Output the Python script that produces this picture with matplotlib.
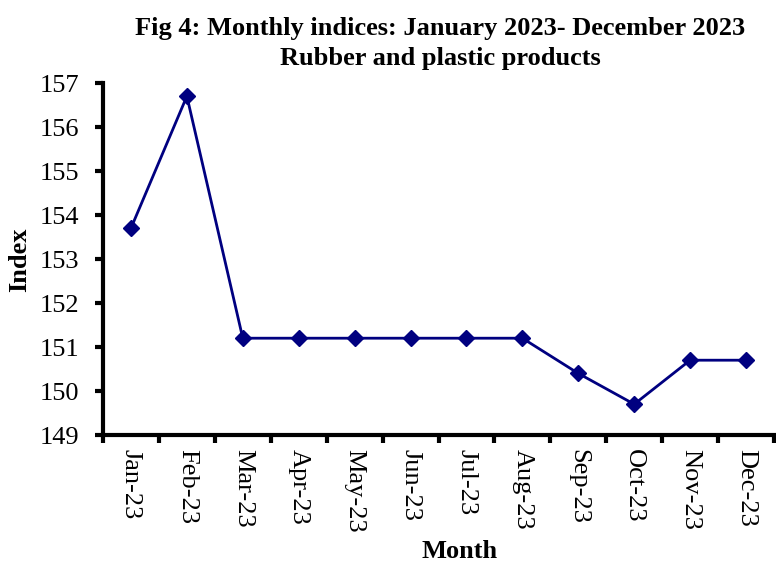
import numpy as np
import matplotlib.pyplot as plt

months = ["Jan-23", "Feb-23", "Mar-23", "Apr-23", "May-23", "Jun-23",
          "Jul-23", "Aug-23", "Sep-23", "Oct-23", "Nov-23", "Dec-23"]
index_values = [153.7, 156.7, 151.2, 151.2, 151.2, 151.2,
                151.2, 151.2, 150.4, 149.7, 150.7, 150.7]

plt.rcParams['font.family'] = ['Liberation Serif', 'DejaVu Serif']

fig = plt.figure(figsize=(7.76, 5.65), dpi=100)
ax = fig.add_axes([103 / 776, 1 - 435 / 565, 671 / 776, (435 - 83) / 565])

x = np.arange(len(months))
ax.plot(x, index_values, color='#000080', linewidth=2,
        marker='D', markersize=8.5, markerfacecolor='#000080', markeredgecolor='#000080')

ax.set_xlim(-0.5, len(months) - 0.5)
ax.set_ylim(149, 157)
ax.set_yticks(np.arange(149, 158, 1))

# ticks on category borders, labels on category centres
ax.set_xticks(np.arange(-0.5, len(months), 1))
ax.set_xticklabels([])
ax.set_xticks(x, minor=True)
ax.set_xticklabels(months, minor=True, rotation=270, fontsize=19, va='top', ha='center')
ax.tick_params(axis='x', which='major', direction='out', length=6, width=3)
ax.tick_params(axis='x', which='minor', length=0, pad=10)
ax.tick_params(axis='y', direction='out', length=6, width=3, labelsize=19, pad=11)

for s in ['top', 'right']:
    ax.spines[s].set_visible(False)
for s in ['left', 'bottom']:
    ax.spines[s].set_linewidth(3)

fig.text(440 / 776, 1 - 29 / 565, "Fig 4: Monthly indices: January 2023- December 2023",
         ha='center', va='center', fontsize=19, fontweight='bold')
fig.text(440 / 776, 1 - 59 / 565, "Rubber and plastic products",
         ha='center', va='center', fontsize=19, fontweight='bold')
fig.text(460 / 776, 1 - 552 / 565, "Month", ha='center', va='center', fontsize=19, fontweight='bold')
fig.text(20 / 776, 1 - 260 / 565, "Index", ha='center', va='center', rotation=90,
         fontsize=19, fontweight='bold')

fig.savefig("out.png", dpi=100)
